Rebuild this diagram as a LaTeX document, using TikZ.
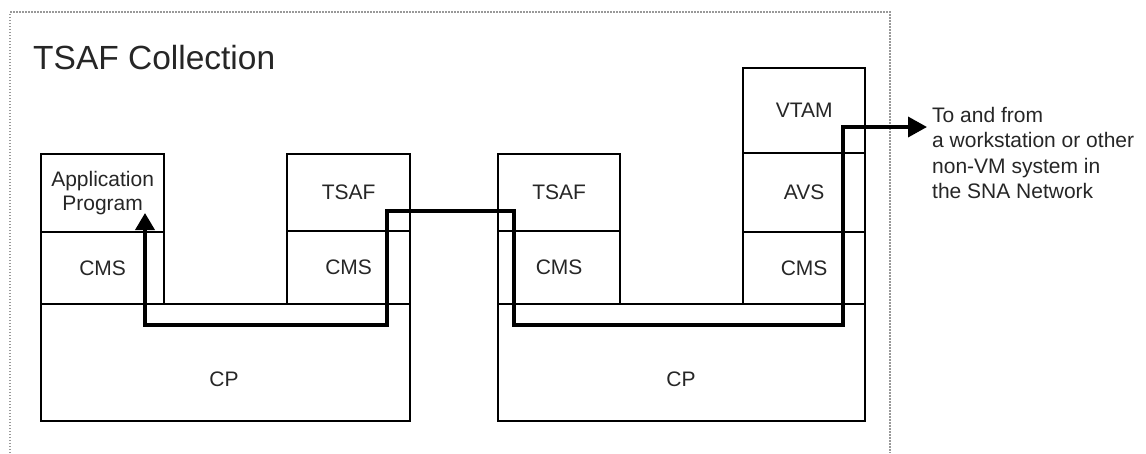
\documentclass[tikz,border=0pt]{standalone}
\usepackage{fontspec}
\setmainfont{Liberation Sans}
\usetikzlibrary{arrows.meta}
\begin{document}
\begin{tikzpicture}[x=1pt,y=-1pt,
  lbl/.style={font=\fontsize{21}{25.3}\selectfont, text=black!85},
  box/.style={draw, line width=2.3pt, anchor=north west, inner sep=0pt, lbl, align=center},
  route/.style={line width=3.6pt, black},
  frame/.style={draw=black!40, line width=2pt, dash pattern=on 1.5pt off 1.5pt}
]
\useasboundingbox (0,0) rectangle (1146,453);
% frame
\draw[frame] (10,453) -- (10,12) -- (890,12) -- (890,453);
\node[anchor=base west, inner sep=0pt, font=\fontsize{33.5}{40}\selectfont, text=black!85] (title) at (33,69) {TSAF Collection};

% left system
\node[box, minimum width=123pt, minimum height=78pt] (app) at (40,153) {Application\\[-2pt]Program};
\node[box, minimum width=123pt, minimum height=72pt] (cms1) at (40,231) {CMS};
\node[box, minimum width=123pt, minimum height=77pt] (tsaf1) at (286,153) {TSAF};
\node[box, minimum width=123pt, minimum height=73pt] (cms2) at (286,230) {CMS};
\node[box, minimum width=369pt, minimum height=117pt] (cp1) at (40,303) {};
\node[lbl] (cp1t) at (224,379) {CP};

% right system
\node[box, minimum width=122pt, minimum height=77pt] (tsaf2) at (497,153) {TSAF};
\node[box, minimum width=122pt, minimum height=73pt] (cms3) at (497,230) {CMS};
\node[box, minimum width=122pt, minimum height=85pt] (vtam) at (742,67) {VTAM};
\node[box, minimum width=122pt, minimum height=79pt] (avs) at (742,152) {AVS};
\node[box, minimum width=122pt, minimum height=72pt] (cms4) at (742,231) {CMS};
\node[box, minimum width=367pt, minimum height=117pt] (cp2) at (497,303) {};
\node[lbl] (cp2t) at (681,379) {CP};

% external text
\node[lbl, anchor=north west, inner sep=0pt, align=left] (ext) at (932,107) {To and from\\a workstation or other\\non-VM system in\\the SNA Network};

% route
\coordinate (pstart) at (145,213);
\coordinate (pend) at (927,127);
\draw[route, {Triangle[length=17pt,width=19pt]}-{Triangle[length=19pt,width=20pt]}]
  (pstart) -- (145,325) -- (387,325) -- (387,211) -- (514,211) -- (514,325)
  -- (843,325) -- (843,127) -- (pend);
\end{tikzpicture}
\end{document}
